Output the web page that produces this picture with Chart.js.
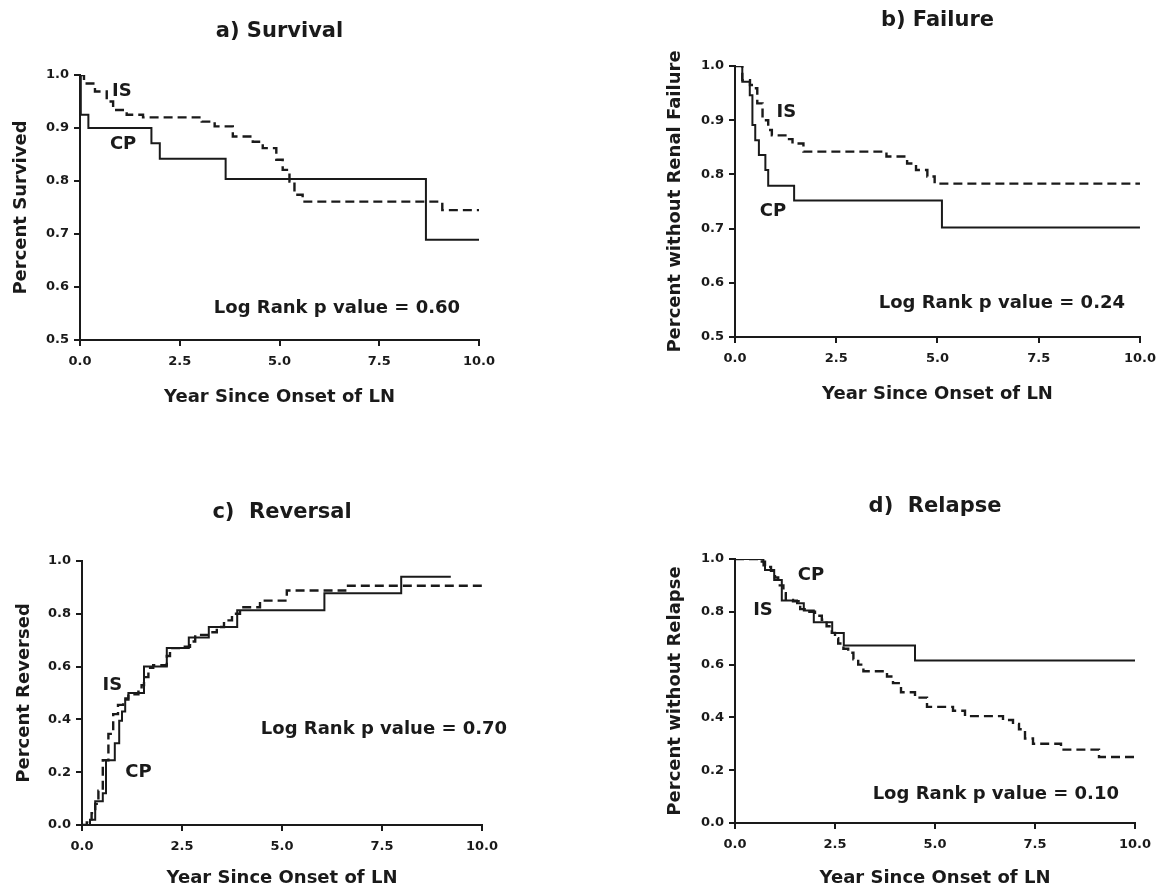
<!DOCTYPE html>
<html>
<head>
<meta charset="utf-8">
<script src="https://cdn.jsdelivr.net/npm/chart.js@4.4.1/dist/chart.umd.min.js"></script>
<style>
  html, body { margin: 0; padding: 0; background: #fff; }
  body { width: 1164px; height: 893px; position: relative; overflow: hidden; }
  canvas { position: absolute; }
</style>
</head>
<body>
<canvas id="chartA" width="582" height="440" style="left:0;top:0"></canvas>
<canvas id="chartB" width="582" height="440" style="left:582px;top:0"></canvas>
<canvas id="chartC" width="582" height="443" style="left:0;top:450px"></canvas>
<canvas id="chartD" width="582" height="443" style="left:582px;top:450px"></canvas>
<script>
const INK = '#1a1a1a';
const FONT = 'DejaVu Sans';

// axis ticks
const xTicks = [0, 2.5, 5, 7.5, 10];
const yTicksUpper = [0.5, 0.6, 0.7, 0.8, 0.9, 1.0];
const yTicksLower = [0, 0.2, 0.4, 0.6, 0.8, 1.0];

// a) Survival
const survivalCPTime  = [0, 0.02, 0.21, 1.79, 2.0, 3.65, 8.67, 10];
const survivalCPValue = [1, 0.925, 0.90, 0.871, 0.842, 0.804, 0.689, 0.689];
const survivalISTime  = [0, 0.1, 0.375, 0.67, 0.83, 1.17, 1.58, 3.05, 3.375, 3.83, 4.33, 4.58, 4.92, 5.08, 5.25, 5.375, 5.58, 9.08, 10];
const survivalISValue = [1, 0.984, 0.969, 0.95, 0.934, 0.925, 0.92, 0.912, 0.903, 0.884, 0.874, 0.862, 0.84, 0.821, 0.799, 0.774, 0.761, 0.745, 0.745];

// b) Failure
const failureCPTime  = [0, 0.18, 0.365, 0.43, 0.5, 0.59, 0.75, 0.82, 1.46, 5.11, 10];
const failureCPValue = [1, 0.971, 0.946, 0.891, 0.863, 0.836, 0.808, 0.779, 0.752, 0.702, 0.702];
const failureISTime  = [0, 0.18, 0.37, 0.46, 0.55, 0.68, 0.82, 0.91, 1.28, 1.42, 1.69, 3.74, 4.25, 4.47, 4.75, 4.93, 10];
const failureISValue = [1, 0.974, 0.965, 0.959, 0.931, 0.90, 0.882, 0.872, 0.865, 0.857, 0.842, 0.833, 0.82, 0.808, 0.796, 0.783, 0.783];

// c) Reversal
const reversalCPTime  = [0, 0.2, 0.33, 0.52, 0.6, 0.82, 0.93, 1.0, 1.08, 1.16, 1.55, 2.12, 2.67, 3.17, 3.88, 6.06, 7.98, 9.22];
const reversalCPValue = [0, 0.02, 0.09, 0.12, 0.245, 0.31, 0.395, 0.43, 0.48, 0.50, 0.60, 0.67, 0.71, 0.75, 0.813, 0.878, 0.94, 0.94];
const reversalISTime  = [0, 0.12, 0.24, 0.33, 0.41, 0.52, 0.66, 0.78, 0.9, 1.03, 1.16, 1.41, 1.49, 1.55, 1.66, 1.78, 2.12, 2.2, 2.57, 2.7, 2.83, 3.2, 3.37, 3.55, 3.75, 3.95, 4.45, 5.12, 6.58, 10];
const reversalISValue = [0, 0.01, 0.045, 0.08, 0.13, 0.245, 0.345, 0.42, 0.455, 0.475, 0.495, 0.505, 0.53, 0.56, 0.595, 0.605, 0.64, 0.67, 0.675, 0.695, 0.72, 0.73, 0.75, 0.775, 0.80, 0.825, 0.85, 0.888, 0.906, 0.906];

// d) Relapse
const relapseCPTime  = [0, 0.71, 0.75, 0.98, 1.17, 1.55, 1.72, 1.97, 2.43, 2.72, 4.5, 10];
const relapseCPValue = [1, 0.975, 0.958, 0.92, 0.843, 0.832, 0.805, 0.76, 0.72, 0.672, 0.616, 0.616];
const relapseISTime  = [0, 0.67, 0.75, 0.9, 1.0, 1.08, 1.21, 1.27, 1.45, 1.63, 1.83, 2.0, 2.17, 2.29, 2.42, 2.5, 2.58, 2.71, 2.83, 2.96, 3.08, 3.21, 3.8, 3.95, 4.15, 4.5, 4.8, 5.45, 5.75, 6.7, 6.95, 7.1, 7.25, 7.45, 8.15, 9.1, 10];
const relapseISValue = [1, 0.99, 0.97, 0.955, 0.93, 0.9, 0.87, 0.845, 0.84, 0.81, 0.80, 0.785, 0.77, 0.745, 0.72, 0.70, 0.68, 0.66, 0.645, 0.62, 0.60, 0.575, 0.555, 0.53, 0.495, 0.475, 0.44, 0.425, 0.405, 0.39, 0.375, 0.355, 0.32, 0.30, 0.278, 0.25, 0.25];

const pValues = ['0.60', '0.24', '0.70', '0.10'];

function toPoints(times, values) {
    return times.map((t, i) => ({ x: t, y: values[i] }));
}

// in-plot labels (IS / CP / log rank) and the rotated y titles
function panelText(notes, yTitle, yTitleX) {
    return {
        id: 'panelText',
        afterDatasetsDraw(chart) {
            const { ctx, chartArea, scales: { x, y } } = chart;
            ctx.save();
            ctx.fillStyle = INK;
            ctx.textAlign = 'center';
            ctx.textBaseline = 'middle';
            ctx.font = `bold 18px "${FONT}"`;
            notes.forEach(n => {
                ctx.fillText(n.text, x.getPixelForValue(n.x), y.getPixelForValue(n.y));
            });
            ctx.translate(yTitleX, (chartArea.top + chartArea.bottom) / 2);
            ctx.rotate(-Math.PI / 2);
            ctx.fillText(yTitle, 0, 0);
            ctx.restore();
        }
    };
}

function drawPanel(id, p) {
    const axisLine = { display: true, color: INK, width: 2 };
    const tickMarks = { display: true, drawOnChartArea: false, drawTicks: true, tickLength: 6, color: INK, lineWidth: 2 };
    const tickFont = { family: FONT, size: 13, weight: 'bold' };

    new Chart(document.getElementById(id), {
        type: 'line',
        data: {
            datasets: [
                {
                    label: 'CP',
                    data: toPoints(p.cpTime, p.cpValue),
                    borderColor: INK,
                    borderWidth: 2,
                    stepped: true,
                    pointRadius: 0,
                    fill: false
                },
                {
                    label: 'IS',
                    data: toPoints(p.isTime, p.isValue),
                    borderColor: INK,
                    borderWidth: 2.4,
                    borderDash: [9, 5],
                    stepped: true,
                    pointRadius: 0,
                    fill: false
                }
            ]
        },
        options: {
            responsive: false,
            animation: false,
            events: [],
            layout: { padding: { left: 0, top: 0, bottom: 0, right: p.padRight } },
            plugins: {
                legend: { display: false },
                tooltip: { enabled: false },
                title: {
                    display: true,
                    text: p.title,
                    fullSize: false,
                    color: INK,
                    font: { family: FONT, size: 21, weight: 'bold' },
                    padding: { top: p.titleTop, bottom: p.titleBottom }
                }
            },
            scales: {
                x: {
                    type: 'linear',
                    min: 0,
                    max: 10,
                    afterBuildTicks: s => { s.ticks = xTicks.map(v => ({ value: v })); },
                    afterFit: s => { s.height = p.xAxisHeight; },
                    border: axisLine,
                    grid: tickMarks,
                    ticks: { color: INK, font: tickFont, padding: 8, maxRotation: 0, callback: v => v.toFixed(1) },
                    title: {
                        display: true,
                        text: 'Year Since Onset of LN',
                        color: INK,
                        font: { family: FONT, size: 18, weight: 'bold' },
                        padding: { top: 0, bottom: p.xTitlePad }
                    }
                },
                y: {
                    type: 'linear',
                    min: p.yTicks[0],
                    max: 1,
                    afterBuildTicks: s => { s.ticks = p.yTicks.map(v => ({ value: v })); },
                    afterFit: s => { s.width = p.yAxisWidth; },
                    border: axisLine,
                    grid: tickMarks,
                    ticks: { color: INK, font: tickFont, padding: 5, callback: v => v.toFixed(1) }
                }
            }
        },
        plugins: [panelText(p.notes, p.yTitle, p.yTitleX)]
    });
}

drawPanel('chartA', {
    title: 'a) Survival', titleTop: 19.4, titleBottom: 30.4,
    padRight: 103, yAxisWidth: 80, xAxisHeight: 100, xTitlePad: 32.2,
    yTicks: yTicksUpper, yTitle: 'Percent Survived', yTitleX: 21,
    cpTime: survivalCPTime, cpValue: survivalCPValue,
    isTime: survivalISTime, isValue: survivalISValue,
    notes: [
        { text: 'IS', x: 1.05, y: 0.969 },
        { text: 'CP', x: 1.08, y: 0.869 },
        { text: 'Log Rank p value = ' + pValues[0], x: 6.44, y: 0.56 }
    ]
});

drawPanel('chartB', {
    title: 'b) Failure', titleTop: 8.4, titleBottom: 32.4,
    padRight: 22, yAxisWidth: 153, xAxisHeight: 103, xTitlePad: 35.2,
    yTicks: yTicksUpper, yTitle: 'Percent without Renal Failure', yTitleX: 93,
    cpTime: failureCPTime, cpValue: failureCPValue,
    isTime: failureISTime, isValue: failureISValue,
    notes: [
        { text: 'IS', x: 1.27, y: 0.915 },
        { text: 'CP', x: 0.94, y: 0.731 },
        { text: 'Log Rank p value = ' + pValues[1], x: 6.59, y: 0.562 }
    ]
});

drawPanel('chartC', {
    title: 'c)  Reversal', titleTop: 50.4, titleBottom: 35.4,
    padRight: 100, yAxisWidth: 82, xAxisHeight: 68, xTitlePad: 4.2,
    yTicks: yTicksLower, yTitle: 'Percent Reversed', yTitleX: 24,
    cpTime: reversalCPTime, cpValue: reversalCPValue,
    isTime: reversalISTime, isValue: reversalISValue,
    notes: [
        { text: 'IS', x: 0.76, y: 0.53 },
        { text: 'CP', x: 1.41, y: 0.199 },
        { text: 'Log Rank p value = ' + pValues[2], x: 7.55, y: 0.364 }
    ]
});

drawPanel('chartD', {
    title: 'd)  Relapse', titleTop: 44.4, titleBottom: 39.4,
    padRight: 29, yAxisWidth: 153, xAxisHeight: 70, xTitlePad: 4.2,
    yTicks: yTicksLower, yTitle: 'Percent without Relapse', yTitleX: 93,
    cpTime: relapseCPTime, cpValue: relapseCPValue,
    isTime: relapseISTime, isValue: relapseISValue,
    notes: [
        { text: 'CP', x: 1.90, y: 0.937 },
        { text: 'IS', x: 0.70, y: 0.807 },
        { text: 'Log Rank p value = ' + pValues[3], x: 6.52, y: 0.107 }
    ]
});
</script>
</body>
</html>
